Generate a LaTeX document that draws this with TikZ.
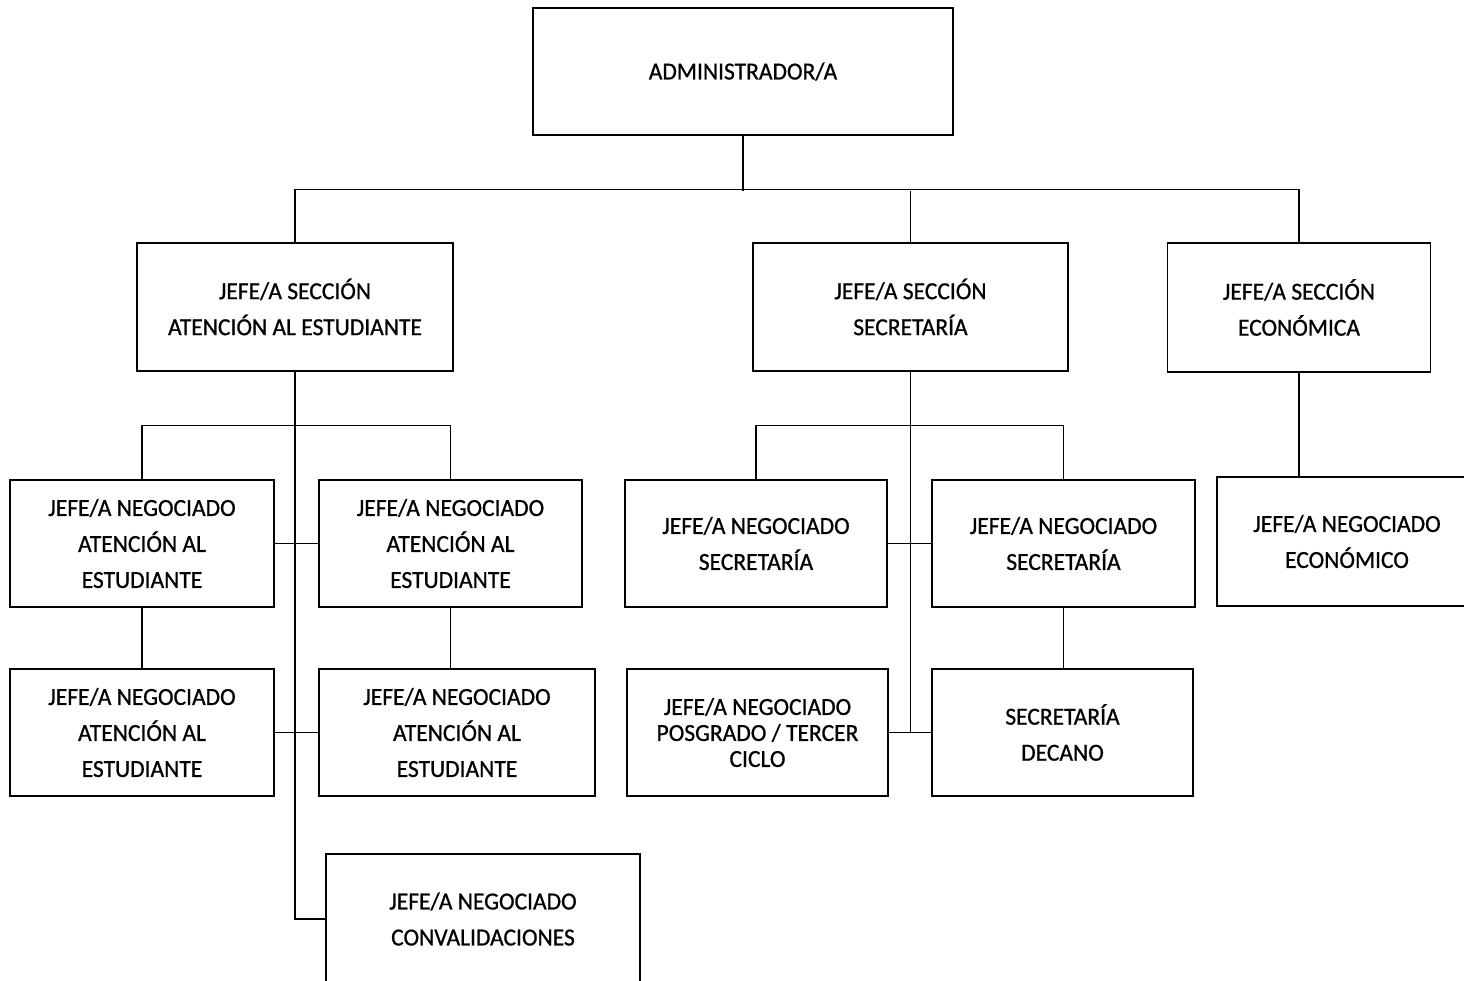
\documentclass[tikz,border=0pt]{standalone}
\usepackage{fontspec}
\setmainfont{Carlito}[FakeStretch=0.96, FakeBold=0.8]
\usetikzlibrary{positioning}

\begin{document}
\begin{tikzpicture}[
  x=1pt, y=-1pt,
  unit/.style={draw, line width=1.4pt, align=center, inner sep=0pt,
    minimum width=#1, minimum height=127pt, font=\fontsize{24.5}{36}\selectfont},
  unit/.default=263pt,
  link/.style={line width=1.1pt}
]
\useasboundingbox (0,0) rectangle (1464,980);

% Top
\node[unit=420pt] (admin) at (743,71.5) {ADMINISTRADOR/A};

% Sections
\node[unit=316pt, minimum height=128pt] (secAtt) at (295,307) {JEFE/A SECCIÓN\\ATENCIÓN AL ESTUDIANTE};
\node[unit=315pt, minimum height=128pt] (secSec) at (910.5,307) {JEFE/A SECCIÓN\\SECRETARÍA};
\node[unit=263pt, minimum height=129pt] (secEco) at (1299,307.5) {JEFE/A SECCIÓN\\ECONÓMICA};

% Negociados - atencion al estudiante
\node[unit=264pt] (negAtt1) at (142,543.5) {JEFE/A NEGOCIADO\\ATENCIÓN AL\\ESTUDIANTE};
\node[unit=263pt] (negAtt2) at (450.5,543.5) {JEFE/A NEGOCIADO\\ATENCIÓN AL\\ESTUDIANTE};
\node[unit=264pt] (negAtt3) at (142,732.5) {JEFE/A NEGOCIADO\\ATENCIÓN AL\\ESTUDIANTE};
\node[unit=276pt] (negAtt4) at (457,732.5) {JEFE/A NEGOCIADO\\ATENCIÓN AL\\ESTUDIANTE};
\node[unit=314pt, minimum height=130pt] (negConv) at (483,919) {JEFE/A NEGOCIADO\\CONVALIDACIONES};

% Negociados - secretaria
\node[unit=262pt] (negSec1) at (756,543.5) {JEFE/A NEGOCIADO\\SECRETARÍA};
\node[unit=263pt] (negSec2) at (1063.5,543.5) {JEFE/A NEGOCIADO\\SECRETARÍA};
\node[unit=261pt, font=\fontsize{24.5}{26}\selectfont] (negPos) at (757.5,732.5) {JEFE/A NEGOCIADO\\POSGRADO / TERCER\\CICLO};
\node[unit=261pt] (secDec) at (1062.5,732.5) {SECRETARÍA\\DECANO};

% Negociado - economica
\node[unit=260pt, minimum height=129pt] (negEco) at (1347,541.5) {JEFE/A NEGOCIADO\\ECONÓMICO};

% Admin to sections
\draw[link] (admin.south) -- ++(0,55) coordinate (bus);
\draw[link] (secAtt.north) -- ++(0,-53) -| (secEco.north);
\draw[link] (secSec.north) -- (secSec.north |- bus);

% Atencion al estudiante branch
\draw[link] (negAtt1.north) -- ++(0,-54) -| (negAtt2.north);
\draw[link] (secAtt.south) |- (negConv.west);
\draw[link] (negAtt1.east) -- (negAtt2.west);
\draw[link] (negAtt3.east) -- (negAtt4.west);
\draw[link] (negAtt1) -- (negAtt3);
\draw[link] (negAtt2.south) -- (negAtt2.south |- negAtt4.north);

% Secretaria branch
\draw[link] (negSec1.north) -- ++(0,-54) -| (negSec2.north);
\draw[link] (secSec.south) -- (secSec.south |- negPos.east);
\draw[link] (negSec1.east) -- (negSec2.west);
\draw[link] (negPos.east) -- (secDec.west);
\draw[link] (negSec2.south) -- (negSec2.south |- secDec.north);

% Economica branch
\draw[link] (secEco.south) -- (secEco.south |- negEco.north);

\end{tikzpicture}
\end{document}
